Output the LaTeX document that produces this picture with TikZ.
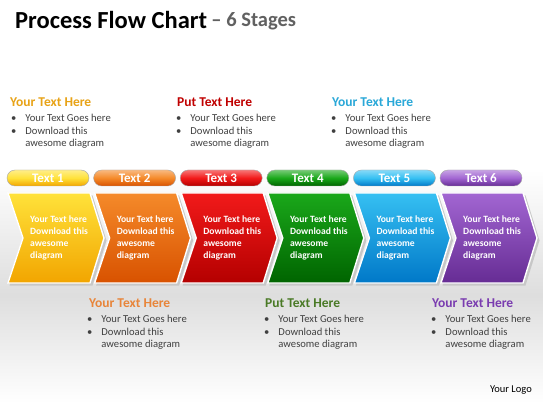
\documentclass[tikz,border=0pt]{standalone}
\usepackage{fontspec}
\setmainfont{Carlito}
\usetikzlibrary{positioning}

\definecolor{yelT}{HTML}{FFE23A}
\definecolor{yelB}{HTML}{F2A500}
\definecolor{ornT}{HTML}{F58A2A}
\definecolor{ornB}{HTML}{D85200}
\definecolor{redT}{HTML}{F21A1A}
\definecolor{redB}{HTML}{B40000}
\definecolor{grnT}{HTML}{1AA81A}
\definecolor{grnB}{HTML}{006400}
\definecolor{bluT}{HTML}{36C0F2}
\definecolor{bluB}{HTML}{0078C8}
\definecolor{purT}{HTML}{A266D2}
\definecolor{purB}{HTML}{662C94}
\definecolor{bodytxt}{HTML}{404040}
\definecolor{hdYel}{HTML}{E8A317}
\definecolor{hdRed}{HTML}{C00000}
\definecolor{hdBlu}{HTML}{2AA8D8}
\definecolor{hdOrn}{HTML}{E8853A}
\definecolor{hdGrn}{HTML}{4A7A26}
\definecolor{hdPur}{HTML}{7A3CB0}

\tikzset{
  head/.style = {anchor=west, inner sep=0pt, font=\bfseries\fontsize{13.5}{15}\selectfont},
  blist/.style = {anchor=north west, inner sep=0pt, text=bodytxt,
                  font=\fontsize{10.6}{12.6}\selectfont},
  pill/.style = {rounded corners=8pt, draw=black!35, line width=.4pt},
  pilltxt/.style = {text=white, font=\bfseries\fontsize{13}{15}\selectfont},
  chevtxt/.style = {anchor=north west, inner sep=0pt, align=left, text=white,
                    font=\bfseries\fontsize{9.6}{12}\selectfont}
}
\newcommand{\bulletrows}{%
  \begin{tabular}{@{}l@{\hspace{9pt}}l@{}}
  \textbullet & Your Text Goes here\\
  \textbullet & Download this\\
   & awesome diagram
  \end{tabular}}

\begin{document}
\begin{tikzpicture}[x=1pt, y=1pt]
  \useasboundingbox (0,0) rectangle (543,-403);
  % background
  \fill[white] (0,0) rectangle (543,-403);
  \shade[top color=white, bottom color=black!13] (0,-170) rectangle (543,-295);
  \shade[top color=black!13, bottom color=white] (0,-295) rectangle (543,-403);

  % title
  \node (title) at (15,-20) [anchor=west, inner sep=0pt, font=\bfseries\fontsize{24.5}{27}\selectfont] {Process Flow Chart};
  \node (sub) [right=4pt of title.east, anchor=west, inner sep=0pt, yshift=-1pt, text=black!62, font=\bfseries\fontsize{20.5}{23}\selectfont] {-- 6 Stages};

  % stages: pill + chevron
  \foreach \i/\ct/\cb/\lbl in {0/yelT/yelB/Text 1, 1/ornT/ornB/Text 2, 2/redT/redB/Text 3,
                               3/grnT/grnB/Text 4, 4/bluT/bluB/Text 5, 5/purT/purB/Text 6}{
    \pgfmathsetmacro{\ox}{86.6*\i}
    % pill
    \shade[pill, top color=\ct!60!white, bottom color=\cb, middle color=\ct]
      (7+\ox,-170) rectangle (89+\ox,-186);
    \node (p\i) at (48+\ox,-178) [pilltxt] {\lbl};
    % chevron
    \fill[black!22] (9.5+\ox,-195.5) -- (92.5+\ox,-195.5) -- (106.5+\ox,-240.5)
      -- (92.5+\ox,-285.5) -- (9.5+\ox,-285.5) -- (24.5+\ox,-240.5) -- cycle;
    \shade[top color=\ct, bottom color=\cb, draw=white, line width=1.4pt]
      (8+\ox,-193) -- (90+\ox,-193) -- (104+\ox,-238) -- (90+\ox,-283)
      -- (8+\ox,-283) -- (23+\ox,-238) -- cycle;
    \node (c\i) at (30+\ox,-215.5) [chevtxt] {Your Text here\\Download this\\awesome\\diagram};
  }

  % text blocks, top row
  \node (h1) at (10,-102) [head, text=hdYel] {Your Text Here};
  \node (b1) at (11,-112.5) [blist] {\bulletrows};
  \node (h2) at (177,-102) [head, text=hdRed] {Put Text Here};
  \node (b2) at (176,-112.5) [blist] {\bulletrows};
  \node (h3) at (332,-102) [head, text=hdBlu] {Your Text Here};
  \node (b3) at (331,-112.5) [blist] {\bulletrows};

  % text blocks, bottom row
  \node (h4) at (89,-303) [head, text=hdOrn] {Your Text Here};
  \node (b4) at (87,-313.5) [blist] {\bulletrows};
  \node (h5) at (265,-303) [head, text=hdGrn] {Put Text Here};
  \node (b5) at (264,-313.5) [blist] {\bulletrows};
  \node (h6) at (432,-303) [head, text=hdPur] {Your Text Here};
  \node (b6) at (431,-313.5) [blist] {\bulletrows};

  \node (logo) at (532,-390) [anchor=east, inner sep=0pt, font=\fontsize{10.5}{12}\selectfont] {Your Logo};
\end{tikzpicture}
\end{document}
